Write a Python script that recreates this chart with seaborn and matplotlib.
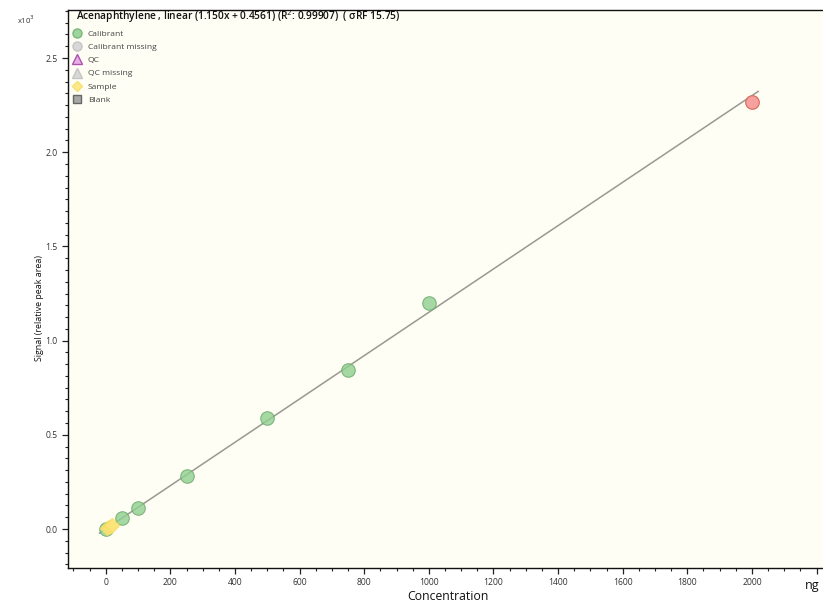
import numpy as np
import pandas as pd
import matplotlib
matplotlib.use("Agg")
import matplotlib.pyplot as plt
import seaborn as sns
from matplotlib.lines import Line2D
from matplotlib.ticker import MultipleLocator

# ---- data ----
cal_conc = [0, 50, 100, 250, 500, 750, 1000]
cal_signal = [0.000, 0.058, 0.111, 0.281, 0.589, 0.844, 1.200]
out_conc = [2000]
out_signal = [2.266]
sample_conc = [5, 10, 15, 20]
sample_signal = [0.004, 0.010, 0.016, 0.022]
slope = 1.150
intercept = 0.4561
fit_range = [-20, 2020]
title_txt = "Acenaphthylene , linear (1.150x + 0.4561) (R$^2$: 0.99907)  ( σRF 15.75)"
legend_labels = ["Calibrant", "Calibrant missing", "QC", "QC missing", "Sample", "Blank"]

sns.set_style("ticks")
plt.rcParams['font.family'] = ['Open Sans', 'DejaVu Sans']

fig = plt.figure(figsize=(8.23, 6.04), dpi=100)
ax = fig.add_axes([68/823, 1-568/604, 1-68/823, (568-10)/604])
ax.set_facecolor("#fffef5")

# fit line
fx = np.array(fit_range, dtype=float)
fy = (slope * fx + intercept) / 1000.0
sns.lineplot(x=fx, y=fy, ax=ax, color="#999990", lw=1.1, zorder=2)

# calibrants
sns.scatterplot(x=cal_conc, y=cal_signal, ax=ax, marker="o", s=95,
                color="#8fcf8f", edgecolor="#6aa86a", alpha=0.8, linewidth=0.8, zorder=3)
# samples
sns.scatterplot(x=sample_conc, y=sample_signal, ax=ax, marker="D", s=55,
                color="#fde57a", edgecolor="#f5dc60", alpha=0.85, linewidth=0.6, zorder=4)
# outlier
sns.scatterplot(x=out_conc, y=out_signal, ax=ax, marker="o", s=95,
                color="#f7a0a0", edgecolor="#d97060", linewidth=0.9, zorder=4)

ax.set_xlim(-117, 2220)
ax.set_ylim(-0.207, 2.755)
ax.xaxis.set_minor_locator(MultipleLocator(50))
ax.yaxis.set_minor_locator(MultipleLocator(0.0625))
ax.set_xticks([v for v in range(0, 2201, 200)])
ax.set_xticklabels([str(v) if v <= 2000 else "" for v in range(0, 2201, 200)])
ax.set_yticks([0.0, 0.5, 1.0, 1.5, 2.0, 2.5])
ax.set_yticklabels(["0.0", "0.5", "1.0", "1.5", "2.0", "2.5"])
ax.tick_params(axis="both", which="major", length=4, width=0.9, labelsize=6.2,
               labelcolor="#333333", direction="out", color="#222222")
ax.tick_params(axis="both", which="minor", length=2.5, width=0.8, color="#222222")

ax.spines["right"].set_visible(False)
for s in ["left", "bottom", "top"]:
    ax.spines[s].set_color("#111111")
    ax.spines[s].set_linewidth(1.0)

ax.set_xlabel("")
ax.set_ylabel("")
fig.text(448/823, 1-596/604, "Concentration", ha="center", va="center", fontsize=8.8, color="#111111")
fig.text(812/823, 1-586/604, "ng", ha="center", va="center", fontsize=9, color="#111111")
fig.text(40/823, 1-308/604, "Signal (relative peak area)", rotation=90, ha="center", va="center",
         fontsize=6.4, color="#111111")
fig.text(26/823, 1-20/604, r"x10$^3$", ha="center", va="center", fontsize=5.5, color="#333333")

# legend title
fig.text(76/823, 1-17/604, title_txt, ha="left", va="center", fontsize=7.3,
         fontweight="semibold", color="#111111")

handles = [
    Line2D([], [], ls="", marker="o", ms=6.5, mfc="#9ed49e", mec="#7ab87a"),
    Line2D([], [], ls="", marker="o", ms=6.5, mfc="#d8d8d8", mec="#c4c4c4"),
    Line2D([], [], ls="", marker="^", ms=6.5, mfc="#e6b0e6", mec="#b050b0"),
    Line2D([], [], ls="", marker="^", ms=6.5, mfc="#d8d8d8", mec="#c4c4c4"),
    Line2D([], [], ls="", marker="D", ms=5, mfc="#fde88a", mec="#f5e070"),
    Line2D([], [], ls="", marker="s", ms=6, mfc="#a8a8a8", mec="#666666"),
]
leg = fig.legend(handles, legend_labels, loc="upper left", bbox_to_anchor=(70/823, 1-30/604),
                 frameon=False, fontsize=6.1, handletextpad=0.5, labelspacing=0.62,
                 borderaxespad=0, borderpad=0, handlelength=1.6)
for t in leg.get_texts():
    t.set_color("#444444")

fig.savefig("out.png", dpi=100, facecolor="white")
